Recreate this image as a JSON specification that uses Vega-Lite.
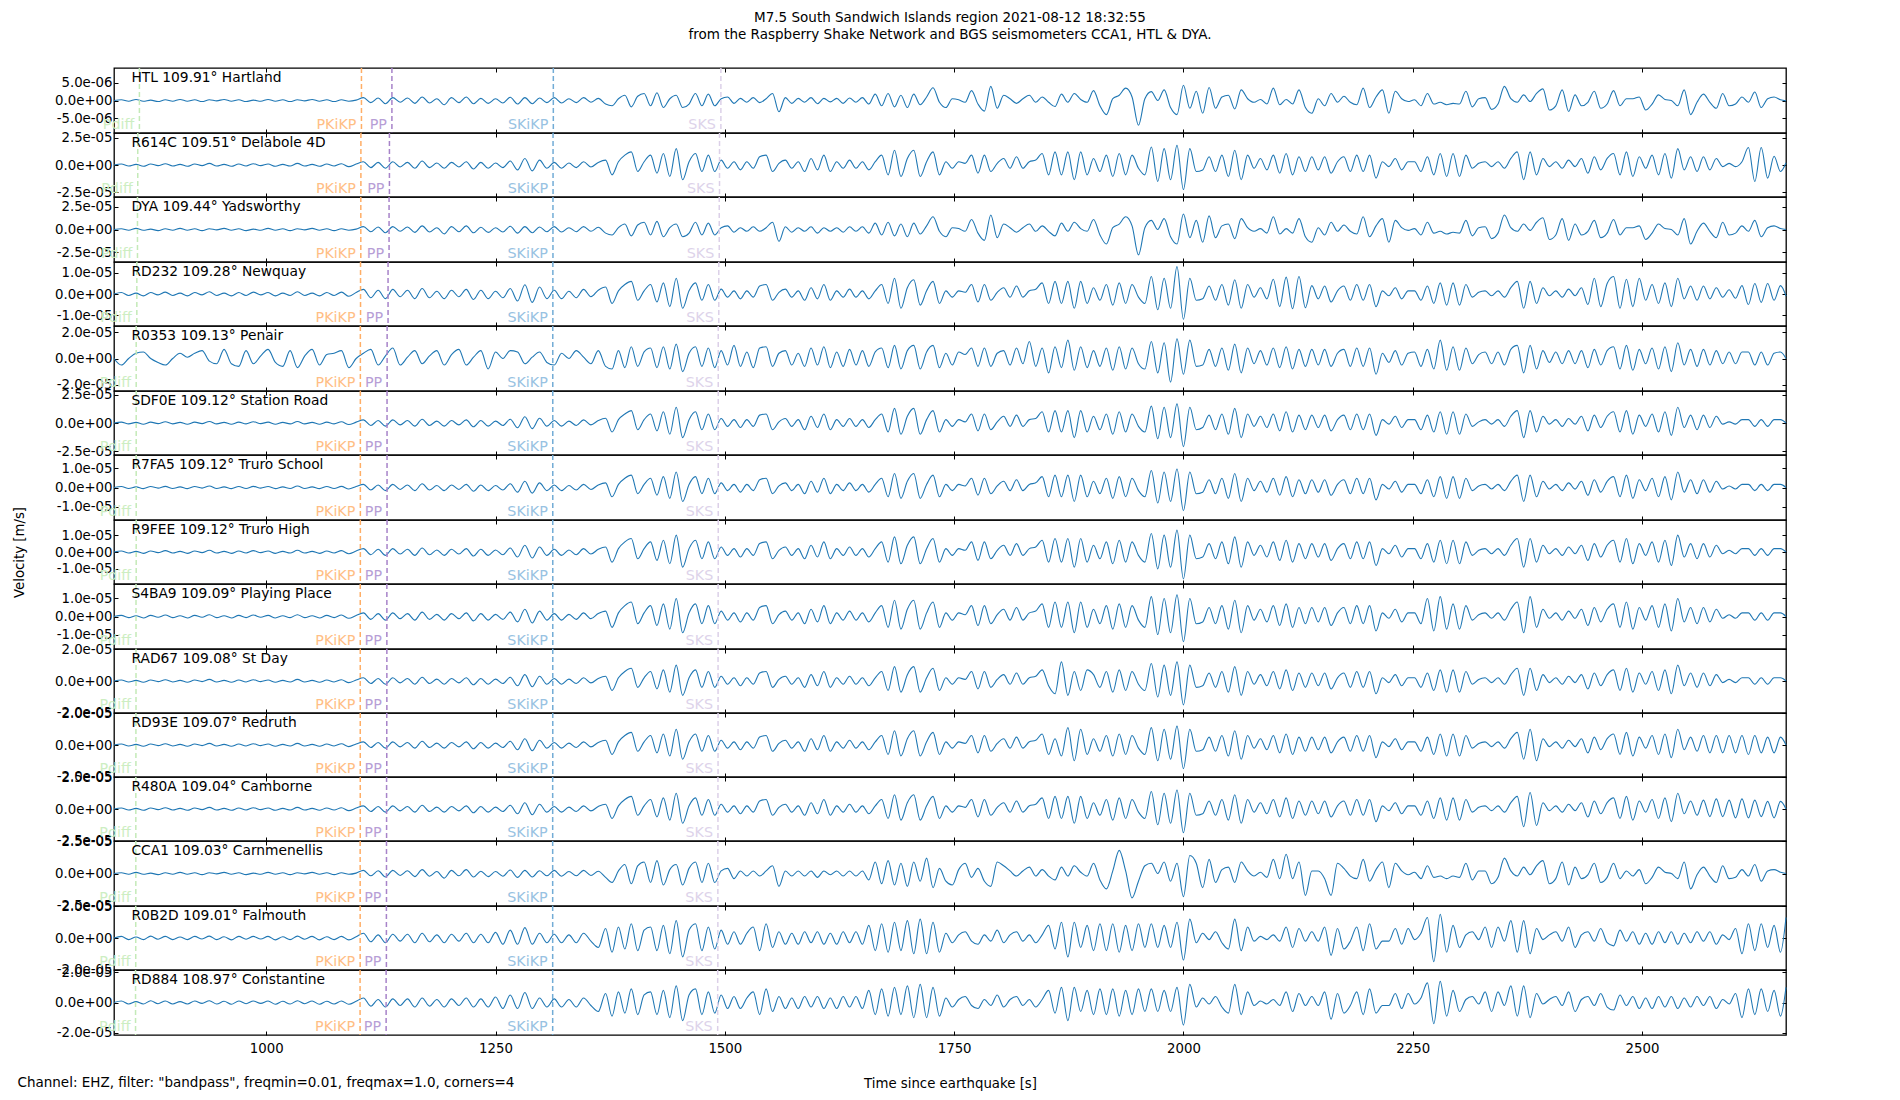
{
"padding":{"left":11,"top":10,"right":5,"bottom":2},
"background":"white",
"title":{"text":"Channel: EHZ, filter: \"bandpass\", freqmin=0.01, freqmax=1.0, corners=4","orient":"bottom","anchor":"start","offset":-14,"dx":6},
"datasets":{
"w":[{"t":[834,842,850,858,866,874,882,890,898,906,914,922,930,938,946,954,962,970,978,986,994,1002,1010,1018,1026,1034,1042,1050,1058,1066,1074,1082,1090,1098,1106,1114,1122,1130,1138,1146,1154,1162,1170,1178,1186,1194,1202,1210,1218,1226,1234,1242,1250,1258,1266,1274,1282,1290,1298,1306,1314,1322,1330,1338,1346,1354,1362,1370,1377,1384,1391,1398,1405,1412,1419,1426,1433,1440,1447,1454,1461,1468,1475,1482,1489,1496,1503,1510,1517,1524,1531,1538,1545,1552,1559,1566,1573,1580,1587,1594,1601,1608,1615,1622,1629,1636,1643,1650,1657,1664,1671,1678,1685,1692,1699,1706,1713,1720,1727,1734,1741,1748,1755,1762,1769,1776,1783,1790,1797,1804,1811,1818,1825,1832,1839,1846,1853,1860,1867,1874,1881,1888,1895,1902,1909,1916,1923,1930,1937,1944,1951,1958,1965,1972,1979,1986,1993,2000,2007,2014,2021,2028,2035,2042,2049,2056,2063,2070,2077,2084,2091,2098,2105,2112,2119,2126,2133,2140,2147,2154,2161,2168,2175,2182,2189,2196,2203,2210,2217,2224,2231,2238,2245,2252,2259,2266,2273,2280,2287,2294,2301,2308,2315,2322,2329,2336,2343,2350,2357,2364,2371,2378,2385,2392,2399,2406,2413,2420,2427,2434,2441,2448,2455,2462,2469,2476,2483,2490,2497,2504,2511,2518,2525,2532,2539,2546,2553,2560,2567,2574,2581,2588,2595,2602,2609,2616,2623,2630,2637,2644,2651,2657],
"HTL":[0,0.2,-0.2,0.3,-0.2,0.1,-0.3,0.2,-0.2,0.3,-0.2,0.2,-0.3,0.2,-0.1,0.3,-0.2,0.2,-0.3,0.1,-0.2,0.3,-0.2,0.2,-0.3,0.2,-0.1,0.3,-0.2,0.2,-0.3,0.2,-0.2,0.1,0.8,-0.6,0.7,-0.9,0.8,-0.5,0.7,-0.8,1,-0.7,0.5,-1.2,0.8,-0.6,1,-0.9,0.6,-0.8,0.5,-0.7,0.9,-1,0.8,-0.9,0.7,-0.6,0.8,-0.7,0.5,-0.6,0.8,-0.5,0.6,-1,
-1.5,0.5,1.5,-1.8,1.2,2,-1.5,2.2,-2,0.5,1.5,-2,-1,2,-1.5,1.8,-1.5,0.5,1,-0.8,0.6,-0.5,0.8,-0.6,0.5,2,-3.2,0.8,-0.8,0.6,-0.5,0.8,-0.9,0.6,-0.4,0.6,-0.8,0.7,-0.5,0.8,-1,1.8,-1.5,2,-1.8,1.5,-2,1.8,-1.2,1,3.6,-0.5,-2,0.5,0.2,-0.5,2.8,-1,-3,4,-2.2,1.5,0.5,-0.8,0.5,1.5,-0.5,1,-0.5,-1.7,1.8,-0.5,2,0.3,-0.5,2.8,-1.5,-4,0.5,1.5,3.5,1,-7,0.5,2.5,0,3,-2,-4,4.3,-2.2,2.6,-3.6,3.7,-2.2,1,1.5,-2.4,3,0.5,-0.5,0.3,-1,3.5,-1.2,0.3,-1,3,-2,-3.6,0.5,-1.5,2,-0.5,1.2,-0.5,-1.2,3.5,-2,1,3,-3.6,2.6,0.5,-0.3,0.2,-1.5,2,-1,-0.5,-1.2,-0.8,-1,2.6,-1.8,0.5,0.8,-2.5,-1,4,0.5,-0.5,1.6,-0.3,2,3.3,-2.7,-1.5,3,-3.1,1.6,-1.5,-0.5,2.6,-2.2,-1,2.8,-1.5,0.5,0.5,1,-2.7,-1,1.6,0.3,0,-1.5,3,-4,-0.5,1.8,-0.5,-2.2,2,-1.5,-1,1,-0.5,2.4,-2,0.5,1,0.2,-0.1],
"R614C":[0,0.9,-0.9,0.6,-1.2,0.9,-0.6,1.2,-0.9,0.6,-1.2,0.9,-0.6,1.5,-0.9,0.6,-1.2,0.9,-0.9,1.2,-0.6,0.9,-1.2,0.6,-0.9,1.5,-0.9,0.6,-1.2,0.9,-0.9,1.2,-1.5,0.9,3,-2.4,2.4,-3,3,-1.8,2.4,-3,3.6,-2.4,1.8,-3,2.4,-1.8,3,-3.6,2.4,-3,1.8,-2.4,3.6,-4.5,6,-5.4,4.5,-3,2.4,-3,1.8,-2.4,3,-1.8,2.4,4.5,
-9,3,9,12,-6,3,9,-7.5,10.5,-10.5,15,-13.5,3,10.5,-6,9,-6,4.5,-3,3,-4.5,3,-3,7.5,9,-6,1.5,4.5,-3,3,-6,6,-4.5,9,-6,3,-3,4.5,-3,3,-4.5,3,9,-9,13.5,-10.5,6,13.5,-10.5,3,12,-9,3,-3,3,1.5,9,-7.5,9,-6,1.5,6,-3,7.5,-3,3,4.5,10.5,-9,12,-9,12,-13.5,12,-9,6,-6,9,-10.5,10.5,-9,9,-3,-9,16.5,-15,15,-13.5,18,-22.5,15,-6,-4.5,7.5,-6,9,-10.5,13.5,-13.5,9,-3,6,-4.5,9,-7.5,10.5,-9,7.5,-6,7.5,-4.5,7.5,-7.5,3,7.5,-6,9,-6,9,-12,3,-1.5,6,-4.5,3,3,-6,7.5,-9,10.5,-10.5,10.5,-10.5,9,-3,1.5,3,-1.5,3,-3,6,12,-13.5,12,-9,6,-1.5,3,-3,4.5,-1.5,6,-7.5,7.5,-4.5,6,10.5,-9,12,-10.5,7.5,-3,9,-9,10.5,-12,15,-4.5,7.5,-6,7.5,-4.5,6,-1.5,1.5,-1.5,3,16,-15,16,-12,8,-6,2],
"DYA":[0,0.8,-0.8,1.2,-0.8,0.4,-1.2,0.8,-0.8,1.2,-0.8,0.8,-1.2,0.8,-0.4,1.2,-0.8,0.8,-1.2,0.4,-0.8,1.2,-0.8,0.8,-1.2,0.8,-0.4,1.2,-0.8,0.8,-1.2,0.8,-0.8,0.4,3.2,-2.4,2.8,-3.6,3.2,-2,2.8,-3.2,4,-2.8,2,-4.8,3.2,-2.4,4,-3.6,2.4,-3.2,2,-2.8,3.6,-4,3.2,-3.6,2.8,-2.4,3.2,-2.8,2,-2.4,3.2,-2,2.4,-4,
-6,2,6,-7,5,8,-6,9,-8,2,6,-8,-4,8,-6,7,-6,2,4,-3,2,-2,3,-2,2,8,-13,3,-3,2,-2,3,-4,2,-2,2,-3,3,-2,3,-4,7,-6,8,-7,6,-8,7,-5,4,14,-2,-8,2,1,-2,11,-4,-12,16,-9,6,2,-3,2,6,-2,4,-2,-7,7,-2,8,1,-2,11,-6,-16,2,6,14,4,-28,2,10,0,12,-8,-16,17,-9,10,-14,15,-9,4,6,-10,12,2,-2,1,-4,14,-5,1,-4,12,-8,-14,2,-6,8,-2,5,-2,-5,14,-8,4,12,-14,10,2,-1,1,-6,8,-4,-2,-5,-3,-4,10,-7,2,3,-10,-4,16,2,-2,6,-1,8,13,-11,-6,12,-12,6,-6,-2,10,-9,-4,11,-6,2,2,4,-11,-4,6,1,0,-6,12,-16,-2,7,-2,-9,8,-6,-4,4,-2,10,-8,2,4,1,0],
"RD232":[0,0.7,-0.7,0.4,-0.9,0.7,-0.4,0.9,-0.7,0.4,-0.9,0.7,-0.4,1.1,-0.7,0.4,-0.9,0.7,-0.7,0.9,-0.4,0.7,-0.9,0.4,-0.7,1.1,-0.7,0.4,-0.9,0.7,-0.7,0.9,-1.1,0.7,2.2,-1.8,1.8,-2.2,2.2,-1.3,1.8,-2.2,2.6,-1.8,1.3,-2.2,1.8,-1.3,2.2,-2.6,1.8,-2.2,1.3,-1.8,2.6,-3.3,4.4,-4,3.3,-2.2,1.8,-2.2,1.3,-1.8,2.2,-1.3,1.8,3.3,
-4.5,1.5,4.5,6,-3,1.5,4.5,-3.8,5.3,-6,7.5,-6.8,1.5,5.3,-3,4.5,-3,2.3,-1.5,1.5,-2.3,1.5,-1.5,3.8,4.5,-3,0.8,2.3,-1.5,1.5,-3,3,-2.3,4.5,-3,1.5,-1.5,2.3,-1.5,1.5,-2.3,1.5,4.5,-4.5,7.5,-6.8,3,6.8,-5.3,1.5,6,-4.5,1.5,-1.5,1.5,0.8,4.5,-3.8,4.5,-3,0.8,3,-1.5,3.8,-1.5,1.5,2.3,5.3,-4.5,6,-4.5,6,-6.8,6,-4.5,3,-3,4.5,-5.3,5.3,-4.5,4.5,-1.5,-4.5,8.3,-7.5,7.5,-6.8,13,-12,7.5,-3,-2.3,3.8,-3,4.5,-5.3,6.8,-6.8,4.5,-1.5,3,-2.3,7,-6,8,-7,8.3,-6.5,4,-2.3,3.8,-3.8,1.5,3.8,-3,4.5,-3,4.5,-6,1.5,-0.8,3,-2.3,1.5,1.5,-3,3.8,-4.5,5.3,-5.3,5.3,-5.3,4.5,-1.5,0.8,1.5,-0.8,1.5,-1.5,3,6,-6.8,6,-4.5,3,-0.8,1.5,-1.5,2.3,-0.8,3,-5,7.5,-6,5,8.3,-6.8,7,-6,7.5,-3,4.5,-4.5,5.3,-6,7.5,-2.3,3.8,-3,3.8,-2.3,3,-1.5,2,-2,4,-5,5,-4,5,-3,4,-1],
"R0353":[0,-5,0,4,5,0,-3,-5,0,4,1,4,6,-2,-4,7,-4,-6,6,-4,2,7,-3,-6,6,-7,2,7,-5,3,4,6,-7,0,4,7,-5,2,8,-5,1,6,-4,2,6,-5,3,7,-5,1,6,-8,5,0,6,5,-4,1,5,-3,-5,4,0,6,1,-4,6,-6,
-8,6,-7,9,-6,5,8,-7,9,-8,11,-10,4,9,-6,8,-7,6,-5,10,-6,5,-7,8,9,-6,4,6,-5,4,-6,8,-5,9,-7,5,-6,7,-5,6,-6,5,8,-7,10,-8,6,10,-8,5,10,-7,4,-5,5,3,8,-6,8,-6,4,6,-5,8,-4,13,-6,8,-11,9,-7,14,-9,9,-7,6,-6,8,-9,9,-8,8,-4,-8,13,-11,12,-18,15,-12,14,-6,-5,7,-6,8,-9,11,-11,8,-4,6,-5,8,-7,9,-8,7,-6,7,-5,7,-6,4,7,-6,8,-6,8,-12,4,-3,6,-5,4,5,-6,7,-8,14,-9,9,-9,8,-4,3,5,-4,5,-5,7,10,-11,10,-8,6,-3,5,-4,6,-4,6,-7,7,-5,6,9,-8,10,-9,7,-4,8,-8,9,-10,12,-5,7,-6,7,-5,6,-4,5,-4,5,5,-5,5,-5,4,5,0],
"SDF0E":[0,0.8,-0.8,0.6,-1.1,0.8,-0.6,1.1,-0.8,0.6,-1.1,0.8,-0.6,1.4,-0.8,0.6,-1.1,0.8,-0.8,1.1,-0.6,0.8,-1.1,0.6,-0.8,1.4,-0.8,0.6,-1.1,0.8,-0.8,1.1,-1.4,0.8,2.8,-2.2,2.2,-2.8,2.8,-1.7,2.2,-2.8,3.4,-2.2,1.7,-2.8,2.2,-1.7,2.8,-3.4,2.2,-2.8,1.7,-2.2,3.4,-4.2,5.6,-5,4.2,-2.8,2.2,-2.8,1.7,-2.2,2.8,-1.7,2.2,4.2,
-8,3,8,11,-6,3,8,-7,10,-10,14,-13,3,10,-6,8,-6,4,-3,3,-4,3,-3,7,8,-6,1,4,-3,3,-6,6,-4,8,-6,3,-3,4,-3,3,-4,3,8,-8,13,-10,6,13,-10,3,11,-8,3,-3,3,1,8,-7,8,-6,1,6,-3,7,-3,3,4,10,-8,11,-8,11,-13,11,-8,6,-6,8,-10,10,-8,8,-3,-8,15,-14,14,-13,17,-21,14,-6,-4,7,-6,8,-10,13,-13,8,-3,6,-4,8,-7,10,-8,7,-6,7,-4,7,-7,3,7,-6,8,-6,8,-11,3,-1,6,-4,3,3,-6,7,-8,10,-10,10,-10,8,-3,1,3,-1,3,-3,6,11,-13,11,-8,6,-1,3,-3,4,-1,6,-7,7,-4,6,10,-8,11,-10,7,-3,8,-8,10,-11,14,-4,7,-6,7,-4,6,-1,1,-1,3,3,-3,3,-3,3,3,0],
"R7FA5":[0,0.5,-0.5,0.3,-0.6,0.5,-0.3,0.6,-0.5,0.3,-0.6,0.5,-0.3,0.8,-0.5,0.3,-0.6,0.5,-0.5,0.6,-0.3,0.5,-0.6,0.3,-0.5,0.8,-0.5,0.3,-0.6,0.5,-0.5,0.6,-0.8,0.5,1.6,-1.3,1.3,-1.6,1.6,-1,1.3,-1.6,1.9,-1.3,1,-1.6,1.3,-1,1.6,-1.9,1.3,-1.6,1,-1.3,1.9,-2.4,3.2,-2.9,2.4,-1.6,1.3,-1.6,1,-1.3,1.6,-1,1.3,2.4,
-4.8,1.6,4.8,6.4,-3.2,1.6,4.8,-4,5.6,-5.6,8,-7.2,1.6,5.6,-3.2,4.8,-3.2,2.4,-1.6,1.6,-2.4,1.6,-1.6,4,4.8,-3.2,0.8,2.4,-1.6,1.6,-3.2,3.2,-2.4,4.8,-3.2,1.6,-1.6,2.4,-1.6,1.6,-2.4,1.6,4.8,-4.8,7.2,-5.6,3.2,7.2,-5.6,1.6,6.4,-4.8,1.6,-1.6,1.6,0.8,4.8,-4,4.8,-3.2,0.8,3.2,-1.6,4,-1.6,1.6,2.4,5.6,-4.8,6.4,-4.8,6.4,-7.2,6.4,-4.8,3.2,-3.2,4.8,-5.6,5.6,-4.8,4.8,-1.6,-4.8,8.8,-8,8,-7.2,9.6,-12,8,-3.2,-2.4,4,-3.2,4.8,-5.6,7.2,-7.2,4.8,-1.6,3.2,-2.4,4.8,-4,5.6,-4.8,4,-3.2,4,-2.4,4,-4,1.6,4,-3.2,4.8,-3.2,4.8,-6.4,1.6,-0.8,3.2,-2.4,1.6,1.6,-3.2,4,-4.8,5.6,-5.6,5.6,-5.6,4.8,-1.6,0.8,1.6,-0.8,1.6,-1.6,3.2,6.4,-7.2,6.4,-4.8,3.2,-0.8,1.6,-1.6,2.4,-0.8,3.2,-4,4,-2.4,3.2,5.6,-4.8,6.4,-5.6,4,-1.6,4.8,-4.8,5.6,-6.4,8,-2.4,4,-3.2,4,-2.4,3.2,-0.8,0.8,-0.8,1.6,1.6,-1.6,1.6,-1.6,1.6,1.6,0],
"R9FEE":[0,0.6,-0.6,0.4,-0.8,0.6,-0.4,0.8,-0.6,0.4,-0.8,0.6,-0.4,1,-0.6,0.4,-0.8,0.6,-0.6,0.8,-0.4,0.6,-0.8,0.4,-0.6,1,-0.6,0.4,-0.8,0.6,-0.6,0.8,-1,0.6,2,-1.6,1.6,-2,2,-1.2,1.6,-2,2.4,-1.6,1.2,-2,1.6,-1.2,2,-2.4,1.6,-2,1.2,-1.6,2.4,-3,4,-3.6,3,-2,1.6,-2,1.2,-1.6,2,-1.2,1.6,3,
-6,2,6,8,-4,2,6,-5,7,-7,10,-9,2,7,-4,6,-4,3,-2,2,-3,2,-2,5,6,-4,1,3,-2,2,-4,4,-3,6,-4,2,-2,3,-2,2,-3,2,6,-6,9,-7,4,9,-7,2,8,-6,2,-2,2,1,6,-5,6,-4,1,4,-2,5,-2,2,3,7,-6,8,-6,8,-9,8,-6,4,-4,6,-7,7,-6,6,-2,-6,11,-10,10,-9,13,-16,10,-4,-3,5,-4,6,-7,9,-9,6,-2,4,-3,6,-5,7,-6,5,-4,5,-3,5,-5,2,5,-4,6,-4,6,-8,2,-1,4,-3,2,2,-4,5,-6,7,-7,7,-7,6,-2,1,2,-1,2,-2,4,8,-9,8,-6,4,-1,2,-2,3,-1,4,-5,5,-3,4,7,-6,8,-7,5,-2,6,-6,7,-8,10,-3,5,-4,5,-3,4,-1,1,-1,2,2,-2,2,-2,2,2,0],
"S4BA9":[0,0.6,-0.6,0.4,-0.8,0.6,-0.4,0.8,-0.6,0.4,-0.8,0.6,-0.4,1,-0.6,0.4,-0.8,0.6,-0.6,0.8,-0.4,0.6,-0.8,0.4,-0.6,1,-0.6,0.4,-0.8,0.6,-0.6,0.8,-1,0.6,2,-1.6,1.6,-2,2,-1.2,1.6,-2,2.4,-1.6,1.2,-2,1.6,-1.2,2,-2.4,1.6,-2,1.2,-1.6,2.4,-3,4,-3.6,3,-2,1.6,-2,1.2,-1.6,2,-1.2,1.6,3,
-6,2,6,8,-4,2,6,-5,7,-7,10,-9,2,7,-4,6,-4,3,-2,2,-3,2,-2,5,6,-4,1,3,-2,2,-4,4,-3,6,-4,2,-2,3,-2,2,-3,2,6,-6,9,-7,4,9,-7,2,8,-6,2,-2,2,1,6,-5,6,-4,1,4,-2,5,-2,2,3,7,-6,8,-6,8,-9,8,-6,4,-4,6,-7,7,-6,6,-2,-6,11,-10,10,-9,12,-14,10,-4,-3,5,-4,6,-7,9,-9,6,-2,4,-3,6,-5,7,-6,5,-4,5,-3,5,-5,2,5,-4,6,-4,6,-8,2,-1,4,-3,2,2,-4,10,-8,11,-7,7,-7,6,-2,1,2,-1,2,-2,4,8,-9,11,-6,4,-1,2,-2,3,-1,4,-5,5,-3,4,7,-6,8,-7,5,-2,6,-6,7,-8,10,-3,5,-4,5,-3,4,-1,1,-1,2,2,-2,2,-2,2,2,0],
"RAD67":[0,0.6,-0.6,0.4,-0.8,0.6,-0.4,0.8,-0.6,0.4,-0.8,0.6,-0.4,1,-0.6,0.4,-0.8,0.6,-0.6,0.8,-0.4,0.6,-0.8,0.4,-0.6,1,-0.6,0.4,-0.8,0.6,-0.6,0.8,-1,0.6,2,-1.6,1.6,-2,2,-1.2,1.6,-2,2.4,-1.6,1.2,-2,1.6,-1.2,2,-2.4,1.6,-2,1.2,-1.6,2.4,-3,4,-3.6,3,-2,1.6,-2,1.2,-1.6,2,-1.2,1.6,3,
-6,2,6,8,-4,2,6,-5,7,-7,10,-9,2,7,-4,6,-4,3,-2,2,-3,2,-2,5,6,-4,1,3,-2,2,-4,4,-3,6,-4,2,-2,3,-2,2,-3,2,6,-6,9,-7,4,9,-7,2,8,-6,2,-2,2,1,6,-5,6,-4,1,4,-2,5,-2,2,3,7,-3,-8,12,-9,6,-6,7,4,-4,6,-7,7,-6,6,-2,-6,11,-10,10,-9,12,-15,10,-4,-3,5,-4,6,-7,9,-9,6,-2,4,-3,6,-5,7,-6,5,-4,5,-3,5,-5,2,5,-4,6,-4,6,-8,2,-1,4,-3,2,2,-4,5,-6,7,-7,7,-7,6,-2,1,2,-1,2,-2,4,8,-9,8,-6,4,-1,2,-2,3,-1,4,-5,5,-3,4,7,-6,8,-7,5,-2,6,-6,7,-8,10,-3,5,-4,5,-3,4,-1,1,-1,2,2,-2,2,-2,2,2,0],
"RD93E":[0,0.6,-0.6,0.4,-0.8,0.6,-0.4,0.8,-0.6,0.4,-0.8,0.6,-0.4,1,-0.6,0.4,-0.8,0.6,-0.6,0.8,-0.4,0.6,-0.8,0.4,-0.6,1,-0.6,0.4,-0.8,0.6,-0.6,0.8,-1,0.6,2,-1.6,1.6,-2,2,-1.2,1.6,-2,2.4,-1.6,1.2,-2,1.6,-1.2,2,-2.4,1.6,-2,1.2,-1.6,2.4,-3,4,-3.6,3,-2,1.6,-2,1.2,-1.6,2,-1.2,1.6,3,
-6,2,6,8,-4,2,6,-5,7,-7,10,-9,2,7,-4,6,-4,3,-2,2,-3,2,-2,5,6,-4,1,3,-2,2,-4,4,-3,6,-4,2,-2,3,-2,2,-3,2,6,-6,9,-7,4,9,-7,2,8,-6,2,-2,2,1,6,-5,6,-4,1,4,-2,5,-2,2,3,7,-6,4,-7,11,-10,10,-6,4,-4,6,-7,7,-6,6,-2,-6,11,-10,10,-9,12,-15,10,-4,-3,5,-4,6,-7,9,-9,6,-2,4,-3,6,-5,7,-6,5,-4,5,-3,5,-5,2,5,-4,6,-4,6,-8,2,-1,4,-3,2,2,-4,5,-6,7,-7,7,-7,6,-2,1,2,-1,2,-2,4,8,-9,10,-10,4,-1,2,-2,3,-1,4,-5,5,-3,4,7,-6,8,-7,5,-2,6,-6,7,-8,10,-3,5,-4,6,-5,6,-5,6,-5,6,-6,6,-5,5,-5,5,0],
"R480A":[0,0.8,-0.8,0.5,-1,0.8,-0.5,1,-0.8,0.5,-1,0.8,-0.5,1.3,-0.8,0.5,-1,0.8,-0.8,1,-0.5,0.8,-1,0.5,-0.8,1.3,-0.8,0.5,-1,0.8,-0.8,1,-1.3,0.8,2.5,-2,2,-2.5,2.5,-1.5,2,-2.5,3,-2,1.5,-2.5,2,-1.5,2.5,-3,2,-2.5,1.5,-2,3,-3.8,5,-4.5,3.8,-2.5,2,-2.5,1.5,-2,2.5,-1.5,2,3.8,
-7.5,2.5,7.5,10,-5,2.5,7.5,-6.3,8.8,-8.8,12.5,-11.3,2.5,8.8,-5,7.5,-5,3.8,-2.5,2.5,-3.8,2.5,-2.5,6.3,7.5,-5,1.3,3.8,-2.5,2.5,-5,5,-3.8,7.5,-5,2.5,-2.5,3.8,-2.5,2.5,-3.8,2.5,7.5,-7.5,11.3,-8.8,5,11.3,-8.8,2.5,10,-7.5,2.5,-2.5,2.5,1.3,7.5,-6.3,7.5,-5,1.3,5,-2.5,6.3,-2.5,2.5,3.8,8.8,-7.5,10,-7.5,10,-11.3,10,-7.5,5,-5,7.5,-8.8,8.8,-7.5,7.5,-2.5,-7.5,13.8,-12.5,12.5,-11.3,15,-18.8,12.5,-5,-3.8,6.3,-5,7.5,-8.8,11.3,-11.3,7.5,-2.5,5,-3.8,7.5,-6.3,8.8,-7.5,6.3,-5,6.3,-3.8,6.3,-6.3,2.5,6.3,-5,7.5,-5,7.5,-10,2.5,-1.3,5,-3.8,2.5,2.5,-5,6.3,-7.5,8.8,-8.8,8.8,-8.8,7.5,-2.5,1.3,2.5,-1.3,2.5,-2.5,5,10,-14,13,-13,5,-1.3,2.5,-2.5,3.8,-1.3,5,-6.3,6.3,-3.8,5,8.8,-7.5,10,-8.8,6.3,-2.5,7.5,-7.5,8.8,-10,12.5,-3.8,6.3,-5,7,-6,8,-6,7,-7,8,-7,7,-6,6,-7,6,0],
"CCA1":[0,0.6,-0.6,0.9,-0.6,0.3,-0.9,0.6,-0.6,0.9,-0.6,0.6,-0.9,0.6,-0.3,0.9,-0.6,0.6,-0.9,0.3,-0.6,0.9,-0.6,0.6,-0.9,0.6,-0.3,0.9,-0.6,0.6,-0.9,0.6,-0.6,0.3,2.4,-1.8,2.1,-2.7,2.4,-1.5,2.1,-2.4,3,-2.1,1.5,-3.6,2.4,-1.8,3,-2.7,1.8,-2.4,1.5,-2.1,2.7,-3,2.4,-2.7,2.1,-1.8,2.4,-2.1,1.5,-1.8,2.4,-1.5,1.8,-3,
-7,2,7,-8,6,9,-7,10,-9,3,7,-9,4,9,-7,8,-7,2,4,-4,2,-2,2,-2,2,6,-10,2,-2,2,-2,2,-3,2,-1,2,-2,2,-2,2,-5,9,-8,10,-9,8,-10,9,-6,12,-11,4,-6,-9,3,8,-3,4,-6,-10,9,6,2,-2,2,5,-2,3,-2,-5,5,-2,6,1,-2,8,-5,-12,2,18,2,-19,-6,6,8,0,9,-6,8,-18,14,8,-11,11,-7,3,5,-7,9,2,-2,1,-3,11,-4,15,-4,9,-17,2,2,-4,-17,8,4,-2,-4,11,-6,3,9,-11,8,2,-1,1,-4,6,-3,-2,-4,-2,-3,8,-5,2,2,-8,-3,12,2,-2,5,-1,6,10,-8,-4,9,-9,5,-4,-1,8,-7,-3,8,-4,2,-2,3,-8,-3,5,1,0,-4,9,-12,-1,5,-2,-7,6,-4,-3,3,-2,7,-6,2,3,1,0],
"R0B2D":[0,1,-1,0.6,-1,1.2,-0.8,1,-1,0.6,-1,1,-0.6,1.2,-1,0.8,-1.2,1,-0.8,1,-0.6,1,-1.2,0.8,-1,1.2,-0.8,1,-1.2,0.8,-1,1,-1.2,0.8,3,-2.4,2,-3,2.4,-2,2.4,-3,3,-2.4,2,-3,2.4,-2,3,-3,2.4,-3,3.6,-4,5,-4,6.6,-4,3,-3,2.4,-3,2,-3,3,-2,-6,6,
-9,7,-7,9,-8,5,7,-8,8,-10,11,-12,5,9,-8,7,-7,5,-4,4,-4,3,7,-8,9,-6,4,-4,3,-4,4,-3,4,-4,3,-4,4,-3,4,-4,8,-8,9,-9,10,-8,11,-10,12,-10,10,-9,3,-3,2,4,-2,-4,2,-2,5,-3,2,4,-2,2,-3,2,8,-7,10,-12,10,-6,8,-8,9,-8,9,-9,8,-8,9,-6,9,-6,8,-6,10,-14,12,-3,3,-1,4,-3,-7,12,-8,7,-2,1,-1,2,-2,7,-6,6,-2,4,-2,7,-11,6,-7,-2,7,-8,9,-7,-2,-2,6,-4,6,-1,3,13,-15,15,-9,8,-6,2,4,-1,7,-6,7,-2,11,-9,11,-10,6,-1,2,4,-2,7,-6,2,4,-2,6,-3,-5,5,-2,4,-4,3,-4,4,-3,4,-4,3,-3,4,-2,4,-4,2,-1,6,-10,9,-8,9,-6,8,-9,13],
"RD884":[0,1,-1,0.6,-1,1.2,-0.8,1,-1,0.6,-1,1,-0.6,1.2,-1,0.8,-1.2,1,-0.8,1,-0.6,1,-1.2,0.8,-1,1.2,-0.8,1,-1.2,0.8,-1,1,-1.2,0.8,3,-2.4,2,-3,2.4,-2,2.4,-3,3,-2.4,2,-3,2.4,-2,3,-3,2.4,-3,3.6,-4,5,-4,6.6,-4,3,-3,2.4,-3,2,-3,3,-2,-6,6,
-9,7,-7,9,-8,5,7,-8,8,-10,11,-12,5,9,-8,7,-7,5,-4,4,-4,3,7,-8,9,-6,4,-4,3,-4,4,-3,4,-4,3,-4,4,-3,4,-4,8,-8,9,-9,10,-8,11,-10,12,-10,10,-9,3,-3,2,4,-2,-4,2,-2,5,-3,2,4,-2,2,-3,2,8,-7,10,-12,10,-6,8,-8,9,-8,9,-9,8,-8,9,-6,9,-6,8,-6,10,-15,12,-3,3,-1,4,-3,-7,12,-8,7,-2,1,-1,2,-2,7,-6,6,-2,4,-2,7,-11,6,-7,-2,7,-8,9,-7,-2,-2,6,-4,6,-1,3,13,-14,14,-9,8,-6,2,4,-1,7,-6,7,-2,11,-9,11,-10,6,-1,2,4,-2,7,-6,2,4,-2,6,-3,-5,5,-2,4,-4,3,-4,4,-3,4,-4,3,-3,4,-2,4,-4,2,-1,6,-10,9,-8,9,-6,8,-9,10]
}],
"ph":[
{"s":"HTL","p":"Pdiff","t":861.7},{"s":"HTL","p":"PKiKP","t":1103.8},{"s":"HTL","p":"PP","t":1137.0},{"s":"HTL","p":"SKiKP","t":1313.0},{"s":"HTL","p":"SKS","t":1495.7},
{"s":"R614C","p":"Pdiff","t":859.9},{"s":"R614C","p":"PKiKP","t":1103.2},{"s":"R614C","p":"PP","t":1134.3},{"s":"R614C","p":"SKiKP","t":1312.7},{"s":"R614C","p":"SKS","t":1494.2},
{"s":"DYA","p":"Pdiff","t":859.6},{"s":"DYA","p":"PKiKP","t":1103.1},{"s":"DYA","p":"PP","t":1133.9},{"s":"DYA","p":"SKiKP","t":1312.6},{"s":"DYA","p":"SKS","t":1493.9},
{"s":"RD232","p":"Pdiff","t":858.9},{"s":"RD232","p":"PKiKP","t":1102.8},{"s":"RD232","p":"PP","t":1132.8},{"s":"RD232","p":"SKiKP","t":1312.5},{"s":"RD232","p":"SKS","t":1493.4},
{"s":"R0353","p":"Pdiff","t":858.2},{"s":"R0353","p":"PKiKP","t":1102.6},{"s":"R0353","p":"PP","t":1131.8},{"s":"R0353","p":"SKiKP","t":1312.4},{"s":"R0353","p":"SKS","t":1492.8},
{"s":"SDF0E","p":"Pdiff","t":858.2},{"s":"SDF0E","p":"PKiKP","t":1102.6},{"s":"SDF0E","p":"PP","t":1131.7},{"s":"SDF0E","p":"SKiKP","t":1312.4},{"s":"SDF0E","p":"SKS","t":1492.8},
{"s":"R7FA5","p":"Pdiff","t":858.2},{"s":"R7FA5","p":"PKiKP","t":1102.6},{"s":"R7FA5","p":"PP","t":1131.7},{"s":"R7FA5","p":"SKiKP","t":1312.4},{"s":"R7FA5","p":"SKS","t":1492.8},
{"s":"R9FEE","p":"Pdiff","t":858.2},{"s":"R9FEE","p":"PKiKP","t":1102.6},{"s":"R9FEE","p":"PP","t":1131.7},{"s":"R9FEE","p":"SKiKP","t":1312.4},{"s":"R9FEE","p":"SKS","t":1492.8},
{"s":"S4BA9","p":"Pdiff","t":858.0},{"s":"S4BA9","p":"PKiKP","t":1102.5},{"s":"S4BA9","p":"PP","t":1131.5},{"s":"S4BA9","p":"SKiKP","t":1312.4},{"s":"S4BA9","p":"SKS","t":1492.7},
{"s":"RAD67","p":"Pdiff","t":858.0},{"s":"RAD67","p":"PKiKP","t":1102.5},{"s":"RAD67","p":"PP","t":1131.5},{"s":"RAD67","p":"SKiKP","t":1312.4},{"s":"RAD67","p":"SKS","t":1492.6},
{"s":"RD93E","p":"Pdiff","t":857.9},{"s":"RD93E","p":"PKiKP","t":1102.5},{"s":"RD93E","p":"PP","t":1131.4},{"s":"RD93E","p":"SKiKP","t":1312.4},{"s":"RD93E","p":"SKS","t":1492.6},
{"s":"R480A","p":"Pdiff","t":857.8},{"s":"R480A","p":"PKiKP","t":1102.5},{"s":"R480A","p":"PP","t":1131.2},{"s":"R480A","p":"SKiKP","t":1312.3},{"s":"R480A","p":"SKS","t":1492.5},
{"s":"CCA1","p":"Pdiff","t":857.8},{"s":"CCA1","p":"PKiKP","t":1102.4},{"s":"CCA1","p":"PP","t":1131.1},{"s":"CCA1","p":"SKiKP","t":1312.3},{"s":"CCA1","p":"SKS","t":1492.4},
{"s":"R0B2D","p":"Pdiff","t":857.7},{"s":"R0B2D","p":"PKiKP","t":1102.4},{"s":"R0B2D","p":"PP","t":1131.0},{"s":"R0B2D","p":"SKiKP","t":1312.3},{"s":"R0B2D","p":"SKS","t":1492.4},
{"s":"RD884","p":"Pdiff","t":857.5},{"s":"RD884","p":"PKiKP","t":1102.3},{"s":"RD884","p":"PP","t":1130.7},{"s":"RD884","p":"SKiKP","t":1312.3},{"s":"RD884","p":"SKS","t":1492.2}
]},
"data":{"name":"w"},
"spacing":0,
"bounds":"flush",
"vconcat":[
{"width":1672,"height":65,"title":{"text":"M7.5 South Sandwich Islands region 2021-08-12 18:32:55","subtitle":"from the Raspberry Shake Network and BGS seismometers CCA1, HTL & DYA.","anchor":"middle","frame":"group","offset":26},"resolve":{"axis":{"x":"independent","y":"independent"}},"layer":[
{"transform":[{"flatten":["t","HTL"]}],"mark":"line","encoding":{"x":{"field":"t","type":"quantitative","scale":{"domain":[834,2657],"nice":false},"axis":{"values":[1000,1250,1500,1750,2000,2250,2500],"labels":false,"title":null}},"y":{"field":"HTL","type":"quantitative","scale":{"domain":[-9.2,9.2],"nice":false},"axis":{"values":[-5,0,5],"labelExpr":"replace(replace(replace(format(datum.value*1e-6,'.1e'),'e-','e-0'),'e+','e+0'),'−','-')","title":null}}}},
{"data":{"name":"ph"},"transform":[{"filter":"datum.s==='HTL'"}],"mark":"rule","encoding":{"x":{"field":"t","type":"quantitative","scale":{"domain":[834,2657],"nice":false},"axis":{"orient":"top","values":[1000,1250,1500,1750,2000,2250,2500],"labels":false,"title":null}},"stroke":{"field":"p","type":"nominal"}}},
{"data":{"name":"ph"},"transform":[{"filter":"datum.s==='HTL'"}],"mark":{"type":"text","align":"right","baseline":"alphabetic","dx":-5,"dy":-4,"fontSize":14.3},"encoding":{"x":{"field":"t","type":"quantitative","scale":{"domain":[834,2657],"nice":false},"axis":null},"y":{"datum":-9.2,"type":"quantitative","scale":{"domain":[-9.2,9.2],"nice":false},"axis":{"orient":"right","values":[-5,0,5],"labels":false,"title":null}},"text":{"field":"p"},"fill":{"field":"p","type":"nominal","scale":{"range":["#ffbe85","#b79ed6","#cdeec2","#ddd3ea","#98c2e2"]}}}},
{"data":{"values":[{"n":"HTL 109.91° Hartland"}]},"mark":{"type":"text","align":"left","baseline":"top","dy":3,"fontSize":13.8},"encoding":{"x":{"datum":853,"type":"quantitative","axis":null},"y":{"datum":9.2,"type":"quantitative","axis":null},"text":{"field":"n"}}}]},
{"width":1672,"height":64,"resolve":{"axis":{"x":"independent","y":"independent"}},"layer":[
{"transform":[{"flatten":["t","R614C"]}],"mark":"line","encoding":{"x":{"field":"t","type":"quantitative","scale":{"domain":[834,2657],"nice":false},"axis":{"values":[1000,1250,1500,1750,2000,2250,2500],"labels":false,"title":null}},"y":{"field":"R614C","type":"quantitative","scale":{"domain":[-29.3,29.3],"nice":false},"axis":{"values":[-25,0,25],"labelExpr":"replace(replace(replace(format(datum.value*1e-6,'.1e'),'e-','e-0'),'e+','e+0'),'−','-')","title":null}}}},
{"data":{"name":"ph"},"transform":[{"filter":"datum.s==='R614C'"}],"mark":"rule","encoding":{"x":{"field":"t","type":"quantitative","scale":{"domain":[834,2657],"nice":false},"axis":{"orient":"top","values":[1000,1250,1500,1750,2000,2250,2500],"labels":false,"title":null}},"stroke":{"field":"p","type":"nominal"}}},
{"data":{"name":"ph"},"transform":[{"filter":"datum.s==='R614C'"}],"mark":{"type":"text","align":"right","baseline":"alphabetic","dx":-5,"dy":-4,"fontSize":14.3},"encoding":{"x":{"field":"t","type":"quantitative","scale":{"domain":[834,2657],"nice":false},"axis":null},"y":{"datum":-29.3,"type":"quantitative","scale":{"domain":[-29.3,29.3],"nice":false},"axis":{"orient":"right","values":[-25,0,25],"labels":false,"title":null}},"text":{"field":"p"},"fill":{"field":"p","type":"nominal","scale":{"range":["#ffbe85","#b79ed6","#cdeec2","#ddd3ea","#98c2e2"]}}}},
{"data":{"values":[{"n":"R614C 109.51° Delabole 4D"}]},"mark":{"type":"text","align":"left","baseline":"top","dy":3,"fontSize":13.8},"encoding":{"x":{"datum":853,"type":"quantitative","axis":null},"y":{"datum":29.3,"type":"quantitative","axis":null},"text":{"field":"n"}}}]},
{"width":1672,"height":65,"resolve":{"axis":{"x":"independent","y":"independent"}},"layer":[
{"transform":[{"flatten":["t","DYA"]}],"mark":"line","encoding":{"x":{"field":"t","type":"quantitative","scale":{"domain":[834,2657],"nice":false},"axis":{"values":[1000,1250,1500,1750,2000,2250,2500],"labels":false,"title":null}},"y":{"field":"DYA","type":"quantitative","scale":{"domain":[-35.8,35.8],"nice":false},"axis":{"values":[-25,0,25],"labelExpr":"replace(replace(replace(format(datum.value*1e-6,'.1e'),'e-','e-0'),'e+','e+0'),'−','-')","title":null}}}},
{"data":{"name":"ph"},"transform":[{"filter":"datum.s==='DYA'"}],"mark":"rule","encoding":{"x":{"field":"t","type":"quantitative","scale":{"domain":[834,2657],"nice":false},"axis":{"orient":"top","values":[1000,1250,1500,1750,2000,2250,2500],"labels":false,"title":null}},"stroke":{"field":"p","type":"nominal"}}},
{"data":{"name":"ph"},"transform":[{"filter":"datum.s==='DYA'"}],"mark":{"type":"text","align":"right","baseline":"alphabetic","dx":-5,"dy":-4,"fontSize":14.3},"encoding":{"x":{"field":"t","type":"quantitative","scale":{"domain":[834,2657],"nice":false},"axis":null},"y":{"datum":-35.8,"type":"quantitative","scale":{"domain":[-35.8,35.8],"nice":false},"axis":{"orient":"right","values":[-25,0,25],"labels":false,"title":null}},"text":{"field":"p"},"fill":{"field":"p","type":"nominal","scale":{"range":["#ffbe85","#b79ed6","#cdeec2","#ddd3ea","#98c2e2"]}}}},
{"data":{"values":[{"n":"DYA 109.44° Yadsworthy"}]},"mark":{"type":"text","align":"left","baseline":"top","dy":3,"fontSize":13.8},"encoding":{"x":{"datum":853,"type":"quantitative","axis":null},"y":{"datum":35.8,"type":"quantitative","axis":null},"text":{"field":"n"}}}]},
{"width":1672,"height":64,"resolve":{"axis":{"x":"independent","y":"independent"}},"layer":[
{"transform":[{"flatten":["t","RD232"]}],"mark":"line","encoding":{"x":{"field":"t","type":"quantitative","scale":{"domain":[834,2657],"nice":false},"axis":{"values":[1000,1250,1500,1750,2000,2250,2500],"labels":false,"title":null}},"y":{"field":"RD232","type":"quantitative","scale":{"domain":[-15.2,15.2],"nice":false},"axis":{"values":[-10,0,10],"labelExpr":"replace(replace(replace(format(datum.value*1e-6,'.1e'),'e-','e-0'),'e+','e+0'),'−','-')","title":null}}}},
{"data":{"name":"ph"},"transform":[{"filter":"datum.s==='RD232'"}],"mark":"rule","encoding":{"x":{"field":"t","type":"quantitative","scale":{"domain":[834,2657],"nice":false},"axis":{"orient":"top","values":[1000,1250,1500,1750,2000,2250,2500],"labels":false,"title":null}},"stroke":{"field":"p","type":"nominal"}}},
{"data":{"name":"ph"},"transform":[{"filter":"datum.s==='RD232'"}],"mark":{"type":"text","align":"right","baseline":"alphabetic","dx":-5,"dy":-4,"fontSize":14.3},"encoding":{"x":{"field":"t","type":"quantitative","scale":{"domain":[834,2657],"nice":false},"axis":null},"y":{"datum":-15.2,"type":"quantitative","scale":{"domain":[-15.2,15.2],"nice":false},"axis":{"orient":"right","values":[-10,0,10],"labels":false,"title":null}},"text":{"field":"p"},"fill":{"field":"p","type":"nominal","scale":{"range":["#ffbe85","#b79ed6","#cdeec2","#ddd3ea","#98c2e2"]}}}},
{"data":{"values":[{"n":"RD232 109.28° Newquay"}]},"mark":{"type":"text","align":"left","baseline":"top","dy":3,"fontSize":13.8},"encoding":{"x":{"datum":853,"type":"quantitative","axis":null},"y":{"datum":15.2,"type":"quantitative","axis":null},"text":{"field":"n"}}}]},
{"width":1672,"height":65,"resolve":{"axis":{"x":"independent","y":"independent"}},"layer":[
{"transform":[{"flatten":["t","R0353"]}],"mark":"line","encoding":{"x":{"field":"t","type":"quantitative","scale":{"domain":[834,2657],"nice":false},"axis":{"values":[1000,1250,1500,1750,2000,2250,2500],"labels":false,"title":null}},"y":{"field":"R0353","type":"quantitative","scale":{"domain":[-24.8,24.8],"nice":false},"axis":{"values":[-20,0,20],"labelExpr":"replace(replace(replace(format(datum.value*1e-6,'.1e'),'e-','e-0'),'e+','e+0'),'−','-')","title":null}}}},
{"data":{"name":"ph"},"transform":[{"filter":"datum.s==='R0353'"}],"mark":"rule","encoding":{"x":{"field":"t","type":"quantitative","scale":{"domain":[834,2657],"nice":false},"axis":{"orient":"top","values":[1000,1250,1500,1750,2000,2250,2500],"labels":false,"title":null}},"stroke":{"field":"p","type":"nominal"}}},
{"data":{"name":"ph"},"transform":[{"filter":"datum.s==='R0353'"}],"mark":{"type":"text","align":"right","baseline":"alphabetic","dx":-5,"dy":-4,"fontSize":14.3},"encoding":{"x":{"field":"t","type":"quantitative","scale":{"domain":[834,2657],"nice":false},"axis":null},"y":{"datum":-24.8,"type":"quantitative","scale":{"domain":[-24.8,24.8],"nice":false},"axis":{"orient":"right","values":[-20,0,20],"labels":false,"title":null}},"text":{"field":"p"},"fill":{"field":"p","type":"nominal","scale":{"range":["#ffbe85","#b79ed6","#cdeec2","#ddd3ea","#98c2e2"]}}}},
{"data":{"values":[{"n":"R0353 109.13° Penair"}]},"mark":{"type":"text","align":"left","baseline":"top","dy":3,"fontSize":13.8},"encoding":{"x":{"datum":853,"type":"quantitative","axis":null},"y":{"datum":24.8,"type":"quantitative","axis":null},"text":{"field":"n"}}}]},
{"width":1672,"height":64,"resolve":{"axis":{"x":"independent","y":"independent"}},"layer":[
{"transform":[{"flatten":["t","SDF0E"]}],"mark":"line","encoding":{"x":{"field":"t","type":"quantitative","scale":{"domain":[834,2657],"nice":false},"axis":{"values":[1000,1250,1500,1750,2000,2250,2500],"labels":false,"title":null}},"y":{"field":"SDF0E","type":"quantitative","scale":{"domain":[-28.5,28.5],"nice":false},"axis":{"values":[-25,0,25],"labelExpr":"replace(replace(replace(format(datum.value*1e-6,'.1e'),'e-','e-0'),'e+','e+0'),'−','-')","title":null}}}},
{"data":{"name":"ph"},"transform":[{"filter":"datum.s==='SDF0E'"}],"mark":"rule","encoding":{"x":{"field":"t","type":"quantitative","scale":{"domain":[834,2657],"nice":false},"axis":{"orient":"top","values":[1000,1250,1500,1750,2000,2250,2500],"labels":false,"title":null}},"stroke":{"field":"p","type":"nominal"}}},
{"data":{"name":"ph"},"transform":[{"filter":"datum.s==='SDF0E'"}],"mark":{"type":"text","align":"right","baseline":"alphabetic","dx":-5,"dy":-4,"fontSize":14.3},"encoding":{"x":{"field":"t","type":"quantitative","scale":{"domain":[834,2657],"nice":false},"axis":null},"y":{"datum":-28.5,"type":"quantitative","scale":{"domain":[-28.5,28.5],"nice":false},"axis":{"orient":"right","values":[-25,0,25],"labels":false,"title":null}},"text":{"field":"p"},"fill":{"field":"p","type":"nominal","scale":{"range":["#ffbe85","#b79ed6","#cdeec2","#ddd3ea","#98c2e2"]}}}},
{"data":{"values":[{"n":"SDF0E 109.12° Station Road"}]},"mark":{"type":"text","align":"left","baseline":"top","dy":3,"fontSize":13.8},"encoding":{"x":{"datum":853,"type":"quantitative","axis":null},"y":{"datum":28.5,"type":"quantitative","axis":null},"text":{"field":"n"}}}]},
{"width":1672,"height":65,"resolve":{"axis":{"x":"independent","y":"independent"}},"layer":[
{"transform":[{"flatten":["t","R7FA5"]}],"mark":"line","encoding":{"x":{"field":"t","type":"quantitative","scale":{"domain":[834,2657],"nice":false},"axis":{"values":[1000,1250,1500,1750,2000,2250,2500],"labels":false,"title":null}},"y":{"field":"R7FA5","type":"quantitative","scale":{"domain":[-16.8,16.8],"nice":false},"axis":{"values":[-10,0,10],"labelExpr":"replace(replace(replace(format(datum.value*1e-6,'.1e'),'e-','e-0'),'e+','e+0'),'−','-')","title":null}}}},
{"data":{"name":"ph"},"transform":[{"filter":"datum.s==='R7FA5'"}],"mark":"rule","encoding":{"x":{"field":"t","type":"quantitative","scale":{"domain":[834,2657],"nice":false},"axis":{"orient":"top","values":[1000,1250,1500,1750,2000,2250,2500],"labels":false,"title":null}},"stroke":{"field":"p","type":"nominal"}}},
{"data":{"name":"ph"},"transform":[{"filter":"datum.s==='R7FA5'"}],"mark":{"type":"text","align":"right","baseline":"alphabetic","dx":-5,"dy":-4,"fontSize":14.3},"encoding":{"x":{"field":"t","type":"quantitative","scale":{"domain":[834,2657],"nice":false},"axis":null},"y":{"datum":-16.8,"type":"quantitative","scale":{"domain":[-16.8,16.8],"nice":false},"axis":{"orient":"right","values":[-10,0,10],"labels":false,"title":null}},"text":{"field":"p"},"fill":{"field":"p","type":"nominal","scale":{"range":["#ffbe85","#b79ed6","#cdeec2","#ddd3ea","#98c2e2"]}}}},
{"data":{"values":[{"n":"R7FA5 109.12° Truro School"}]},"mark":{"type":"text","align":"left","baseline":"top","dy":3,"fontSize":13.8},"encoding":{"x":{"datum":853,"type":"quantitative","axis":null},"y":{"datum":16.8,"type":"quantitative","axis":null},"text":{"field":"n"}}}]},
{"width":1672,"height":64,"resolve":{"axis":{"x":"independent","y":"independent"}},"layer":[
{"transform":[{"flatten":["t","R9FEE"]}],"mark":"line","encoding":{"x":{"field":"t","type":"quantitative","scale":{"domain":[834,2657],"nice":false},"axis":{"values":[1000,1250,1500,1750,2000,2250,2500],"labels":false,"title":null}},"y":{"field":"R9FEE","type":"quantitative","scale":{"domain":[-19,19],"nice":false},"axis":{"values":[-10,0,10],"labelExpr":"replace(replace(replace(format(datum.value*1e-6,'.1e'),'e-','e-0'),'e+','e+0'),'−','-')","title":"Velocity [m/s]","titlePadding":28.5}}}},
{"data":{"name":"ph"},"transform":[{"filter":"datum.s==='R9FEE'"}],"mark":"rule","encoding":{"x":{"field":"t","type":"quantitative","scale":{"domain":[834,2657],"nice":false},"axis":{"orient":"top","values":[1000,1250,1500,1750,2000,2250,2500],"labels":false,"title":null}},"stroke":{"field":"p","type":"nominal"}}},
{"data":{"name":"ph"},"transform":[{"filter":"datum.s==='R9FEE'"}],"mark":{"type":"text","align":"right","baseline":"alphabetic","dx":-5,"dy":-4,"fontSize":14.3},"encoding":{"x":{"field":"t","type":"quantitative","scale":{"domain":[834,2657],"nice":false},"axis":null},"y":{"datum":-19,"type":"quantitative","scale":{"domain":[-19,19],"nice":false},"axis":{"orient":"right","values":[-10,0,10],"labels":false,"title":null}},"text":{"field":"p"},"fill":{"field":"p","type":"nominal","scale":{"range":["#ffbe85","#b79ed6","#cdeec2","#ddd3ea","#98c2e2"]}}}},
{"data":{"values":[{"n":"R9FEE 109.12° Truro High"}]},"mark":{"type":"text","align":"left","baseline":"top","dy":3,"fontSize":13.8},"encoding":{"x":{"datum":853,"type":"quantitative","axis":null},"y":{"datum":19,"type":"quantitative","axis":null},"text":{"field":"n"}}}]},
{"width":1672,"height":65,"resolve":{"axis":{"x":"independent","y":"independent"}},"layer":[
{"transform":[{"flatten":["t","S4BA9"]}],"mark":"line","encoding":{"x":{"field":"t","type":"quantitative","scale":{"domain":[834,2657],"nice":false},"axis":{"values":[1000,1250,1500,1750,2000,2250,2500],"labels":false,"title":null}},"y":{"field":"S4BA9","type":"quantitative","scale":{"domain":[-18,18],"nice":false},"axis":{"values":[-10,0,10],"labelExpr":"replace(replace(replace(format(datum.value*1e-6,'.1e'),'e-','e-0'),'e+','e+0'),'−','-')","title":null}}}},
{"data":{"name":"ph"},"transform":[{"filter":"datum.s==='S4BA9'"}],"mark":"rule","encoding":{"x":{"field":"t","type":"quantitative","scale":{"domain":[834,2657],"nice":false},"axis":{"orient":"top","values":[1000,1250,1500,1750,2000,2250,2500],"labels":false,"title":null}},"stroke":{"field":"p","type":"nominal"}}},
{"data":{"name":"ph"},"transform":[{"filter":"datum.s==='S4BA9'"}],"mark":{"type":"text","align":"right","baseline":"alphabetic","dx":-5,"dy":-4,"fontSize":14.3},"encoding":{"x":{"field":"t","type":"quantitative","scale":{"domain":[834,2657],"nice":false},"axis":null},"y":{"datum":-18,"type":"quantitative","scale":{"domain":[-18,18],"nice":false},"axis":{"orient":"right","values":[-10,0,10],"labels":false,"title":null}},"text":{"field":"p"},"fill":{"field":"p","type":"nominal","scale":{"range":["#ffbe85","#b79ed6","#cdeec2","#ddd3ea","#98c2e2"]}}}},
{"data":{"values":[{"n":"S4BA9 109.09° Playing Place"}]},"mark":{"type":"text","align":"left","baseline":"top","dy":3,"fontSize":13.8},"encoding":{"x":{"datum":853,"type":"quantitative","axis":null},"y":{"datum":18,"type":"quantitative","axis":null},"text":{"field":"n"}}}]},
{"width":1672,"height":64,"resolve":{"axis":{"x":"independent","y":"independent"}},"layer":[
{"transform":[{"flatten":["t","RAD67"]}],"mark":"line","encoding":{"x":{"field":"t","type":"quantitative","scale":{"domain":[834,2657],"nice":false},"axis":{"values":[1000,1250,1500,1750,2000,2250,2500],"labels":false,"title":null}},"y":{"field":"RAD67","type":"quantitative","scale":{"domain":[-20.1,20.1],"nice":false},"axis":{"values":[-20,0,20],"labelExpr":"replace(replace(replace(format(datum.value*1e-6,'.1e'),'e-','e-0'),'e+','e+0'),'−','-')","title":null}}}},
{"data":{"name":"ph"},"transform":[{"filter":"datum.s==='RAD67'"}],"mark":"rule","encoding":{"x":{"field":"t","type":"quantitative","scale":{"domain":[834,2657],"nice":false},"axis":{"orient":"top","values":[1000,1250,1500,1750,2000,2250,2500],"labels":false,"title":null}},"stroke":{"field":"p","type":"nominal"}}},
{"data":{"name":"ph"},"transform":[{"filter":"datum.s==='RAD67'"}],"mark":{"type":"text","align":"right","baseline":"alphabetic","dx":-5,"dy":-4,"fontSize":14.3},"encoding":{"x":{"field":"t","type":"quantitative","scale":{"domain":[834,2657],"nice":false},"axis":null},"y":{"datum":-20.1,"type":"quantitative","scale":{"domain":[-20.1,20.1],"nice":false},"axis":{"orient":"right","values":[-20,0,20],"labels":false,"title":null}},"text":{"field":"p"},"fill":{"field":"p","type":"nominal","scale":{"range":["#ffbe85","#b79ed6","#cdeec2","#ddd3ea","#98c2e2"]}}}},
{"data":{"values":[{"n":"RAD67 109.08° St Day"}]},"mark":{"type":"text","align":"left","baseline":"top","dy":3,"fontSize":13.8},"encoding":{"x":{"datum":853,"type":"quantitative","axis":null},"y":{"datum":20.1,"type":"quantitative","axis":null},"text":{"field":"n"}}}]},
{"width":1672,"height":64,"resolve":{"axis":{"x":"independent","y":"independent"}},"layer":[
{"transform":[{"flatten":["t","RD93E"]}],"mark":"line","encoding":{"x":{"field":"t","type":"quantitative","scale":{"domain":[834,2657],"nice":false},"axis":{"values":[1000,1250,1500,1750,2000,2250,2500],"labels":false,"title":null}},"y":{"field":"RD93E","type":"quantitative","scale":{"domain":[-20.3,20.3],"nice":false},"axis":{"values":[-20,0,20],"labelExpr":"replace(replace(replace(format(datum.value*1e-6,'.1e'),'e-','e-0'),'e+','e+0'),'−','-')","title":null}}}},
{"data":{"name":"ph"},"transform":[{"filter":"datum.s==='RD93E'"}],"mark":"rule","encoding":{"x":{"field":"t","type":"quantitative","scale":{"domain":[834,2657],"nice":false},"axis":{"orient":"top","values":[1000,1250,1500,1750,2000,2250,2500],"labels":false,"title":null}},"stroke":{"field":"p","type":"nominal"}}},
{"data":{"name":"ph"},"transform":[{"filter":"datum.s==='RD93E'"}],"mark":{"type":"text","align":"right","baseline":"alphabetic","dx":-5,"dy":-4,"fontSize":14.3},"encoding":{"x":{"field":"t","type":"quantitative","scale":{"domain":[834,2657],"nice":false},"axis":null},"y":{"datum":-20.3,"type":"quantitative","scale":{"domain":[-20.3,20.3],"nice":false},"axis":{"orient":"right","values":[-20,0,20],"labels":false,"title":null}},"text":{"field":"p"},"fill":{"field":"p","type":"nominal","scale":{"range":["#ffbe85","#b79ed6","#cdeec2","#ddd3ea","#98c2e2"]}}}},
{"data":{"values":[{"n":"RD93E 109.07° Redruth"}]},"mark":{"type":"text","align":"left","baseline":"top","dy":3,"fontSize":13.8},"encoding":{"x":{"datum":853,"type":"quantitative","axis":null},"y":{"datum":20.3,"type":"quantitative","axis":null},"text":{"field":"n"}}}]},
{"width":1672,"height":64,"resolve":{"axis":{"x":"independent","y":"independent"}},"layer":[
{"transform":[{"flatten":["t","R480A"]}],"mark":"line","encoding":{"x":{"field":"t","type":"quantitative","scale":{"domain":[834,2657],"nice":false},"axis":{"values":[1000,1250,1500,1750,2000,2250,2500],"labels":false,"title":null}},"y":{"field":"R480A","type":"quantitative","scale":{"domain":[-25.3,25.3],"nice":false},"axis":{"values":[-25,0,25],"labelExpr":"replace(replace(replace(format(datum.value*1e-6,'.1e'),'e-','e-0'),'e+','e+0'),'−','-')","title":null}}}},
{"data":{"name":"ph"},"transform":[{"filter":"datum.s==='R480A'"}],"mark":"rule","encoding":{"x":{"field":"t","type":"quantitative","scale":{"domain":[834,2657],"nice":false},"axis":{"orient":"top","values":[1000,1250,1500,1750,2000,2250,2500],"labels":false,"title":null}},"stroke":{"field":"p","type":"nominal"}}},
{"data":{"name":"ph"},"transform":[{"filter":"datum.s==='R480A'"}],"mark":{"type":"text","align":"right","baseline":"alphabetic","dx":-5,"dy":-4,"fontSize":14.3},"encoding":{"x":{"field":"t","type":"quantitative","scale":{"domain":[834,2657],"nice":false},"axis":null},"y":{"datum":-25.3,"type":"quantitative","scale":{"domain":[-25.3,25.3],"nice":false},"axis":{"orient":"right","values":[-25,0,25],"labels":false,"title":null}},"text":{"field":"p"},"fill":{"field":"p","type":"nominal","scale":{"range":["#ffbe85","#b79ed6","#cdeec2","#ddd3ea","#98c2e2"]}}}},
{"data":{"values":[{"n":"R480A 109.04° Camborne"}]},"mark":{"type":"text","align":"left","baseline":"top","dy":3,"fontSize":13.8},"encoding":{"x":{"datum":853,"type":"quantitative","axis":null},"y":{"datum":25.3,"type":"quantitative","axis":null},"text":{"field":"n"}}}]},
{"width":1672,"height":65,"resolve":{"axis":{"x":"independent","y":"independent"}},"layer":[
{"transform":[{"flatten":["t","CCA1"]}],"mark":"line","encoding":{"x":{"field":"t","type":"quantitative","scale":{"domain":[834,2657],"nice":false},"axis":{"values":[1000,1250,1500,1750,2000,2250,2500],"labels":false,"title":null}},"y":{"field":"CCA1","type":"quantitative","scale":{"domain":[-25.3,25.3],"nice":false},"axis":{"values":[-25,0,25],"labelExpr":"replace(replace(replace(format(datum.value*1e-6,'.1e'),'e-','e-0'),'e+','e+0'),'−','-')","title":null}}}},
{"data":{"name":"ph"},"transform":[{"filter":"datum.s==='CCA1'"}],"mark":"rule","encoding":{"x":{"field":"t","type":"quantitative","scale":{"domain":[834,2657],"nice":false},"axis":{"orient":"top","values":[1000,1250,1500,1750,2000,2250,2500],"labels":false,"title":null}},"stroke":{"field":"p","type":"nominal"}}},
{"data":{"name":"ph"},"transform":[{"filter":"datum.s==='CCA1'"}],"mark":{"type":"text","align":"right","baseline":"alphabetic","dx":-5,"dy":-4,"fontSize":14.3},"encoding":{"x":{"field":"t","type":"quantitative","scale":{"domain":[834,2657],"nice":false},"axis":null},"y":{"datum":-25.3,"type":"quantitative","scale":{"domain":[-25.3,25.3],"nice":false},"axis":{"orient":"right","values":[-25,0,25],"labels":false,"title":null}},"text":{"field":"p"},"fill":{"field":"p","type":"nominal","scale":{"range":["#ffbe85","#b79ed6","#cdeec2","#ddd3ea","#98c2e2"]}}}},
{"data":{"values":[{"n":"CCA1 109.03° Carnmenellis"}]},"mark":{"type":"text","align":"left","baseline":"top","dy":3,"fontSize":13.8},"encoding":{"x":{"datum":853,"type":"quantitative","axis":null},"y":{"datum":25.3,"type":"quantitative","axis":null},"text":{"field":"n"}}}]},
{"width":1672,"height":64,"resolve":{"axis":{"x":"independent","y":"independent"}},"layer":[
{"transform":[{"flatten":["t","R0B2D"]}],"mark":"line","encoding":{"x":{"field":"t","type":"quantitative","scale":{"domain":[834,2657],"nice":false},"axis":{"values":[1000,1250,1500,1750,2000,2250,2500],"labels":false,"title":null}},"y":{"field":"R0B2D","type":"quantitative","scale":{"domain":[-20.3,20.3],"nice":false},"axis":{"values":[-20,0,20],"labelExpr":"replace(replace(replace(format(datum.value*1e-6,'.1e'),'e-','e-0'),'e+','e+0'),'−','-')","title":null}}}},
{"data":{"name":"ph"},"transform":[{"filter":"datum.s==='R0B2D'"}],"mark":"rule","encoding":{"x":{"field":"t","type":"quantitative","scale":{"domain":[834,2657],"nice":false},"axis":{"orient":"top","values":[1000,1250,1500,1750,2000,2250,2500],"labels":false,"title":null}},"stroke":{"field":"p","type":"nominal"}}},
{"data":{"name":"ph"},"transform":[{"filter":"datum.s==='R0B2D'"}],"mark":{"type":"text","align":"right","baseline":"alphabetic","dx":-5,"dy":-4,"fontSize":14.3},"encoding":{"x":{"field":"t","type":"quantitative","scale":{"domain":[834,2657],"nice":false},"axis":null},"y":{"datum":-20.3,"type":"quantitative","scale":{"domain":[-20.3,20.3],"nice":false},"axis":{"orient":"right","values":[-20,0,20],"labels":false,"title":null}},"text":{"field":"p"},"fill":{"field":"p","type":"nominal","scale":{"range":["#ffbe85","#b79ed6","#cdeec2","#ddd3ea","#98c2e2"]}}}},
{"data":{"values":[{"n":"R0B2D 109.01° Falmouth"}]},"mark":{"type":"text","align":"left","baseline":"top","dy":3,"fontSize":13.8},"encoding":{"x":{"datum":853,"type":"quantitative","axis":null},"y":{"datum":20.3,"type":"quantitative","axis":null},"text":{"field":"n"}}}]},
{"width":1672,"height":65,"resolve":{"axis":{"x":"independent","y":"independent"}},"layer":[
{"transform":[{"flatten":["t","RD884"]}],"mark":"line","encoding":{"x":{"field":"t","type":"quantitative","scale":{"domain":[834,2657],"nice":false},"axis":{"values":[1000,1250,1500,1750,2000,2250,2500],"format":"d","labelPadding":10,"title":"Time since earthquake [s]","titlePadding":22}},"y":{"field":"RD884","type":"quantitative","scale":{"domain":[-21.5,21.5],"nice":false},"axis":{"values":[-20,0,20],"labelExpr":"replace(replace(replace(format(datum.value*1e-6,'.1e'),'e-','e-0'),'e+','e+0'),'−','-')","title":null}}}},
{"data":{"name":"ph"},"transform":[{"filter":"datum.s==='RD884'"}],"mark":"rule","encoding":{"x":{"field":"t","type":"quantitative","scale":{"domain":[834,2657],"nice":false},"axis":{"orient":"top","values":[1000,1250,1500,1750,2000,2250,2500],"labels":false,"title":null}},"stroke":{"field":"p","type":"nominal"}}},
{"data":{"name":"ph"},"transform":[{"filter":"datum.s==='RD884'"}],"mark":{"type":"text","align":"right","baseline":"alphabetic","dx":-5,"dy":-4,"fontSize":14.3},"encoding":{"x":{"field":"t","type":"quantitative","scale":{"domain":[834,2657],"nice":false},"axis":null},"y":{"datum":-21.5,"type":"quantitative","scale":{"domain":[-21.5,21.5],"nice":false},"axis":{"orient":"right","values":[-20,0,20],"labels":false,"title":null}},"text":{"field":"p"},"fill":{"field":"p","type":"nominal","scale":{"range":["#ffbe85","#b79ed6","#cdeec2","#ddd3ea","#98c2e2"]}}}},
{"data":{"values":[{"n":"RD884 108.97° Constantine"}]},"mark":{"type":"text","align":"left","baseline":"top","dy":3,"fontSize":13.8},"encoding":{"x":{"datum":853,"type":"quantitative","axis":null},"y":{"datum":21.5,"type":"quantitative","axis":null},"text":{"field":"n"}}}]}
],
"config":{
"font":"DejaVu Sans",
"view":{"stroke":"black","strokeWidth":1.3},
"line":{"color":"#1f77b4","strokeWidth":1.1,"interpolate":"monotone"},
"rule":{"strokeWidth":1.5,"strokeDash":[5,3]},
"text":{"font":"DejaVu Sans","color":"black"},
"legend":{"disable":true},
"range":{"category":["#ffae66","#a783c9","#c4eab8","#dcd0e8","#72acd6"]},
"axis":{"grid":false,"domain":false,"tickColor":"black","tickSize":-4,"tickWidth":1,"labelFont":"DejaVu Sans","labelFontSize":13.3,"labelColor":"black","labelPadding":6,"titleFont":"DejaVu Sans","titleFontSize":13.3,"titleFontWeight":"normal","titleColor":"black"},
"title":{"font":"DejaVu Sans","fontSize":13.5,"fontWeight":"normal","color":"black","subtitleFont":"DejaVu Sans","subtitleFontSize":13.5,"subtitleColor":"black","subtitlePadding":3}
}
}
